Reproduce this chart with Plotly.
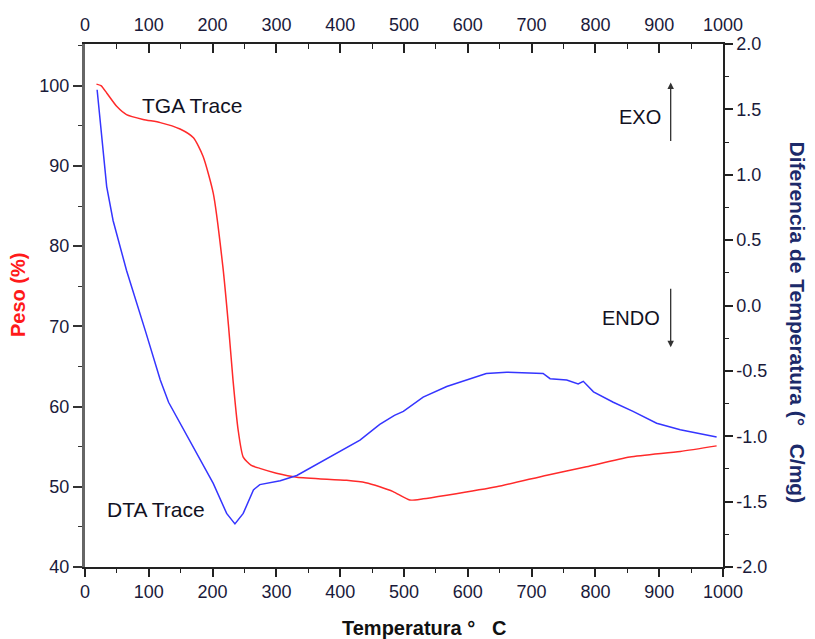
import plotly.graph_objects as go

# TGA trace (weight %, left axis)
tga_temp = [18, 25, 34, 50, 65, 91, 118, 149, 170, 185, 201, 216, 225, 232, 240, 248, 260, 274, 300,
            332, 410, 440, 462, 483, 509, 530, 567, 645, 724, 786, 854, 933, 990]
tga_weight = [100.2, 100.0, 99.1, 97.4, 96.4, 95.8, 95.4, 94.6, 93.5, 91.2, 86.6, 77.5, 70.0, 63.3, 57.1,
              53.7, 52.7, 52.3, 51.7, 51.2, 50.8, 50.5, 50.0, 49.4, 48.35, 48.5, 48.95, 50.0, 51.45,
              52.5, 53.7, 54.4, 55.1]

# DTA trace (temperature difference, right axis)
dta_temp = [19, 26, 34, 44, 65, 95, 118, 131, 155, 175, 201, 222, 235, 248, 264, 274, 306, 332, 384,
            431, 462, 485, 499, 530, 567, 598, 629, 661, 718, 729, 755, 773, 781, 797, 828, 859, 896,
            933, 990]
dta_diff = [1.65, 1.29, 0.91, 0.65, 0.27, -0.20, -0.57, -0.74, -0.95, -1.13, -1.36, -1.59, -1.67,
            -1.59, -1.41, -1.37, -1.34, -1.30, -1.16, -1.03, -0.91, -0.84, -0.81, -0.70, -0.62,
            -0.57, -0.52, -0.51, -0.52, -0.56, -0.57, -0.60, -0.58, -0.66, -0.74, -0.81, -0.90,
            -0.95, -1.005]

x_ticks = [0, 100, 200, 300, 400, 500, 600, 700, 800, 900, 1000]
left_ticks = [40, 50, 60, 70, 80, 90, 100]
right_ticks = [-2.0, -1.5, -1.0, -0.5, 0.0, 0.5, 1.0, 1.5, 2.0]

FONT = "Liberation Sans, Arial, sans-serif"
TICKC = "#1a1a3a"

fig = go.Figure()
fig.add_trace(go.Scatter(x=tga_temp, y=tga_weight, mode="lines", line=dict(color="#ff2a2a", width=1.5,
                         shape="spline", smoothing=0.6), yaxis="y", showlegend=False))
fig.add_trace(go.Scatter(x=dta_temp, y=dta_diff, mode="lines", line=dict(color="#3535ff", width=1.5),
                         yaxis="y2", showlegend=False))
# invisible trace so the top axis is drawn with labels
fig.add_trace(go.Scatter(x=tga_temp, y=tga_weight, mode="lines", line=dict(color="rgba(0,0,0,0)", width=0),
                         xaxis="x2", yaxis="y", showlegend=False, hoverinfo="skip"))

tickfont = dict(family=FONT, size=18, color=TICKC)

fig.update_layout(
    width=815, height=639,
    margin=dict(l=85, r=92, t=44, b=72),
    paper_bgcolor="white", plot_bgcolor="white",
    xaxis=dict(range=[0, 1000], tickvals=x_ticks, ticks="outside", ticklen=8, tickwidth=1.5,
               tickcolor="#222", showline=True, linecolor="#222", linewidth=1.5, showgrid=False,
               zeroline=False, tickfont=tickfont,
               minor=dict(ticks="outside", ticklen=4, dtick=50, tickcolor="#222", tickwidth=1.2)),
    xaxis2=dict(range=[0, 1000], tickvals=x_ticks, overlaying="x", side="top", anchor="y",
                ticks="inside", ticklen=9, tickwidth=1.5, tickcolor="#222", showline=True,
                linecolor="#222", linewidth=1.5, showgrid=False, zeroline=False, tickfont=tickfont,
                ticklabelstandoff=4,
                minor=dict(ticks="inside", ticklen=5, dtick=50, tickcolor="#222", tickwidth=1.2)),
    yaxis=dict(range=[40, 105.2], tickvals=left_ticks, ticks="outside", ticklen=9, tickwidth=1.5,
               tickcolor="#333", showline=True, linecolor="#666", linewidth=3, showgrid=False,
               zeroline=False, tickfont=tickfont,
               minor=dict(ticks="outside", ticklen=4, dtick=5, tickcolor="#333", tickwidth=1.2)),
    yaxis2=dict(range=[-2, 2], tickvals=right_ticks, ticktext=[f"{v:.1f}" for v in right_ticks],
                overlaying="y", side="right", anchor="x", ticks="outside", ticklen=8, tickwidth=1.5,
                tickcolor="#222", showline=True, linecolor="#222", linewidth=1.5, showgrid=False,
                zeroline=False, tickfont=tickfont,
                minor=dict(ticks="outside", ticklen=4, dtick=0.25, tickcolor="#222", tickwidth=1.2)),
)

ann = [
    dict(text="<b>Peso (%)</b>", xref="paper", yref="paper", x=-0.105, y=0.52, textangle=-90,
         showarrow=False, font=dict(family=FONT, size=20, color="#ff1a1a"), xanchor="center", yanchor="middle"),
    dict(text="<b>Diferencia de Temperatura (°\u00a0\u00a0 C/mg)</b>", xref="paper", yref="paper",
         x=1.117, y=0.468, textangle=90, showarrow=False,
         font=dict(family=FONT, size=21, color="#1c2a6a"), xanchor="center", yanchor="middle"),
    dict(text="<b>Temperatura °\u00a0\u00a0 C</b>", xref="paper", yref="paper", x=0.532, y=-0.117,
         showarrow=False, font=dict(family=FONT, size=20, color="#111"), xanchor="center", yanchor="middle"),
    dict(text="TGA Trace", x=167, y=97.5, xref="x", yref="y", showarrow=False,
         font=dict(family=FONT, size=21, color="#111122")),
    dict(text="DTA Trace", x=112, y=47.2, xref="x", yref="y", showarrow=False,
         font=dict(family=FONT, size=21, color="#111122")),
    dict(text="EXO", x=870, y=96.1, xref="x", yref="y", showarrow=False,
         font=dict(family=FONT, size=20, color="#111122")),
    dict(text="ENDO", x=856, y=71.0, xref="x", yref="y", showarrow=False,
         font=dict(family=FONT, size=20, color="#111122")),
    dict(text="", x=918, y=100.4, xref="x", yref="y", ax=0, ay=60, showarrow=True, arrowhead=2,
         arrowsize=1, arrowwidth=1.3, arrowcolor="#333"),
    dict(text="", x=918, y=67.4, xref="x", yref="y", ax=0, ay=-60, showarrow=True, arrowhead=2,
         arrowsize=1, arrowwidth=1.3, arrowcolor="#333"),
]
fig.update_layout(annotations=ann)

fig.write_html("out.html")
